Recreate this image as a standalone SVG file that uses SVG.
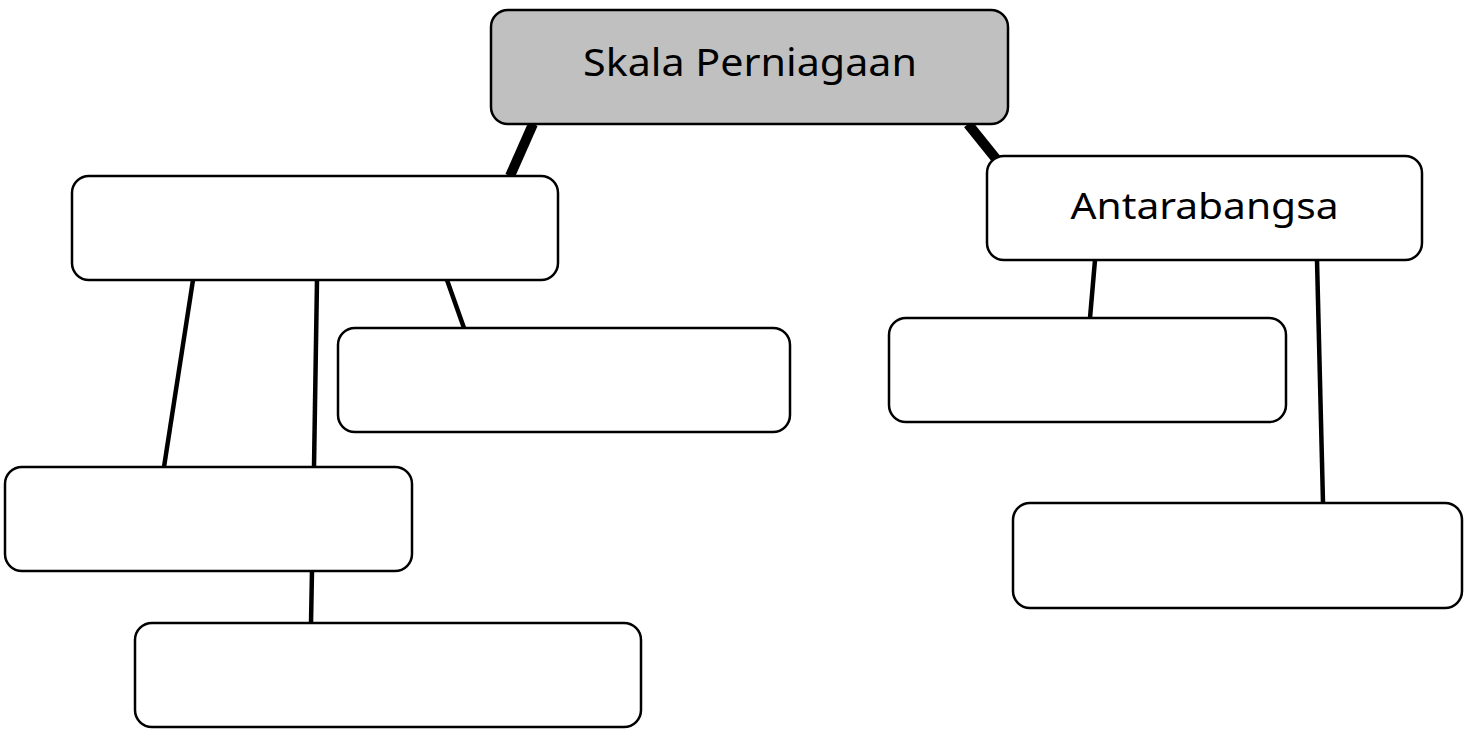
<svg xmlns="http://www.w3.org/2000/svg" width="1472" height="729" viewBox="0 0 1472 729">
  <style>
    .box { fill: #ffffff; stroke: #000000; stroke-width: 2.5; }
    .root { fill: #c0c0c0; stroke: #000000; stroke-width: 2.5; }
    .thick { stroke: #000000; stroke-width: 10; fill: none; }
    .thin { stroke: #000000; stroke-width: 4.5; fill: none; }
    .label { font-family: "Comic Sans MS", "Noto Sans", "DejaVu Sans", sans-serif; fill: #000000; text-anchor: middle; }
  </style>
  <rect width="1472" height="729" fill="#ffffff"/>
  <g id="connectors">
    <line class="thick" x1="533" y1="124" x2="510" y2="176"/>
    <line class="thick" x1="968" y1="124" x2="997" y2="160"/>
    <line class="thin" x1="193" y1="280" x2="164" y2="467"/>
    <line class="thin" x1="317" y1="280" x2="314" y2="467"/>
    <line class="thin" x1="447" y1="280" x2="464" y2="328"/>
    <line class="thin" x1="312" y1="571" x2="311" y2="623"/>
    <line class="thin" x1="1095" y1="260" x2="1090" y2="318"/>
    <line class="thin" x1="1317" y1="260" x2="1323" y2="503"/>
  </g>
  <g id="node-root">
    <rect class="root" x="491" y="10" width="517" height="114" rx="17" ry="17"/>
    <text class="label" x="750" y="76" font-size="39" textLength="334" lengthAdjust="spacingAndGlyphs">Skala Perniagaan</text>
  </g>
  <g id="node-a">
    <rect class="box" x="72" y="176" width="486" height="104" rx="17" ry="17"/>
  </g>
  <g id="node-antarabangsa">
    <rect class="box" x="987" y="156" width="435" height="104" rx="17" ry="17"/>
    <text class="label" x="1204.5" y="219" font-size="37" textLength="268" lengthAdjust="spacingAndGlyphs">Antarabangsa</text>
  </g>
  <g id="node-c">
    <rect class="box" x="338" y="328" width="452" height="104" rx="17" ry="17"/>
  </g>
  <g id="node-d">
    <rect class="box" x="889" y="318" width="397" height="104" rx="17" ry="17"/>
  </g>
  <g id="node-e">
    <rect class="box" x="5" y="467" width="407" height="104" rx="17" ry="17"/>
  </g>
  <g id="node-f">
    <rect class="box" x="135" y="623" width="506" height="104" rx="17" ry="17"/>
  </g>
  <g id="node-g">
    <rect class="box" x="1013" y="503" width="449" height="105" rx="17" ry="17"/>
  </g>
</svg>
